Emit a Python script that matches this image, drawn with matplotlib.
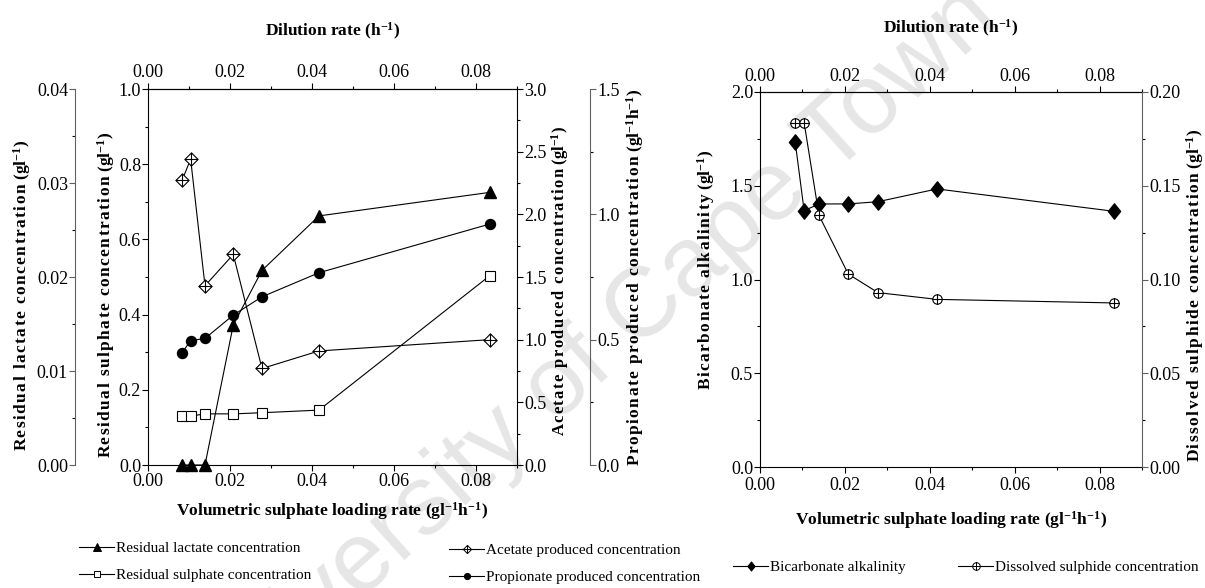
import matplotlib
matplotlib.use("Agg")
import matplotlib.pyplot as plt
from matplotlib.path import Path
from matplotlib.lines import Line2D
from matplotlib.ticker import MultipleLocator, FormatStrFormatter

plt.rcParams['font.family'] = ['Liberation Serif', 'DejaVu Serif']
plt.rcParams['mathtext.fontset'] = 'custom'
plt.rcParams['mathtext.rm'] = 'Liberation Serif'
plt.rcParams['mathtext.bf'] = 'Liberation Serif:bold'
plt.rcParams['mathtext.it'] = 'Liberation Serif:italic'

# ---------------- data ----------------
loading_rate = [0.0083, 0.0104, 0.0139, 0.0208, 0.0278, 0.0417, 0.0833]
lactate = [0.0, 0.0, 0.0, 0.0149, 0.0207, 0.0265, 0.0290]
sulphate = [0.130, 0.130, 0.136, 0.136, 0.139, 0.146, 0.503]
acetate = [2.27, 2.44, 1.43, 1.68, 0.77, 0.91, 1.00]
propionate = [0.448, 0.496, 0.505, 0.598, 0.671, 0.767, 0.961]
bicarbonate = [1.732, 1.367, 1.403, 1.403, 1.415, 1.483, 1.364]
sulphide = [0.1836, 0.1836, 0.1342, 0.1029, 0.0930, 0.0894, 0.0875]

# ---------------- markers ----------------
diamond = Path([(0, 1), (1, 0), (0, -1), (-1, 0), (0, 1)],
               [Path.MOVETO, Path.LINETO, Path.LINETO, Path.LINETO, Path.CLOSEPOLY])
tall_diamond = Path([(0, 1), (0.8, 0), (0, -1), (-0.8, 0), (0, 1)],
                    [Path.MOVETO, Path.LINETO, Path.LINETO, Path.LINETO, Path.CLOSEPOLY])
plus = Path([(0, 1), (0, -1), (-1, 0), (1, 0)],
            [Path.MOVETO, Path.LINETO, Path.MOVETO, Path.LINETO])
diamond_plus = Path.make_compound_path(diamond, plus)
circle_plus = Path.make_compound_path(Path.unit_circle(), plus)

LW = 0.8
TICKFS = 13
LABFS = 12.5
YLABFS = 12.5
GRAY = '#606060'
HS = '\u200a'


def sp(s):
    return HS.join(s)


def ylab(text, unit):
    return sp(text) + ' ' + unit


fig = plt.figure(figsize=(12.05, 5.88), dpi=100)


def style_ax(a):
    a.tick_params(direction='out', labelsize=TICKFS, width=0.8, length=4)
    a.tick_params(which='minor', direction='out', width=0.8, length=2.5)


def xfmt(a):
    a.xaxis.set_major_locator(MultipleLocator(0.02))
    a.xaxis.set_minor_locator(MultipleLocator(0.01))
    a.xaxis.set_major_formatter(FormatStrFormatter('%.2f'))


def yfmt(a, major, fmt):
    a.yaxis.set_major_locator(MultipleLocator(major))
    a.yaxis.set_minor_locator(MultipleLocator(major / 2))
    a.yaxis.set_major_formatter(FormatStrFormatter(fmt))


XLAB = r'Volumetric sulphate loading rate (gl$^{\mathbf{-1}}$h$^{\mathbf{-1}}$)'
TLAB = r'Dilution rate (h$^{\mathbf{-1}}$)'
G1 = r'(gl$^{\mathbf{-1}}$)'
G2 = r'(gl$^{\mathbf{-1}}$h$^{\mathbf{-1}}$)'

# ================= left panel =================
ax = fig.add_axes([148/1205, 1-465/588, 369/1205, 376/588])
ax.set_facecolor('none')
ax.set_xlim(0, 0.09)
ax.set_ylim(0, 1.0)
xfmt(ax)
yfmt(ax, 0.2, '%.1f')
ax.spines['right'].set_visible(False)
style_ax(ax)
ax.tick_params(axis='y', pad=1)
ax.tick_params(axis='x', pad=2)
ax.set_xlabel(XLAB, fontsize=LABFS, fontweight='bold', labelpad=7)
ax.set_ylabel(ylab('Residual sulphate concentration', G1),
              fontsize=YLABFS, fontweight='bold', labelpad=1, y=0.452)

top = ax.secondary_xaxis('top')
xfmt(top)
style_ax(top)
top.tick_params(axis='x', pad=2)
top.set_xlabel(TLAB, fontsize=LABFS, fontweight='bold', labelpad=20)

ax_lac = ax.twinx()
ax_lac.set_ylim(0, 0.04)
ax_lac.yaxis.set_ticks_position('left')
ax_lac.yaxis.set_label_position('left')
ax_lac.spines['left'].set_position(('outward', 73*0.72))
ax_lac.spines['left'].set_visible(True)
for s in ['right', 'top', 'bottom']:
    ax_lac.spines[s].set_visible(False)
ax_lac.spines['left'].set_color(GRAY)
yfmt(ax_lac, 0.01, '%.2f')
style_ax(ax_lac)
ax_lac.tick_params(axis='y', colors=GRAY, labelcolor='black', pad=1)
ax_lac.set_ylabel(ylab('Residual lactate concentration', G1),
                  fontsize=YLABFS, fontweight='bold', labelpad=3, y=0.452)

ax_ace = ax.twinx()
ax_ace.set_ylim(0, 3.0)
for s in ['left', 'top', 'bottom']:
    ax_ace.spines[s].set_visible(False)
yfmt(ax_ace, 0.5, '%.1f')
style_ax(ax_ace)
ax_ace.tick_params(axis='y', pad=1)
ax_ace.set_ylabel(ylab('Acetate produced concentration', G1),
                  fontsize=12, fontweight='bold', labelpad=2, y=0.49)

ax_pro = ax.twinx()
ax_pro.set_ylim(0, 1.5)
for s in ['left', 'top', 'bottom']:
    ax_pro.spines[s].set_visible(False)
ax_pro.spines['right'].set_position(('outward', 73*0.72))
ax_pro.spines['right'].set_color(GRAY)
yfmt(ax_pro, 0.5, '%.1f')
style_ax(ax_pro)
ax_pro.tick_params(axis='y', colors=GRAY, labelcolor='black', pad=1)
ax_pro.set_ylabel(ylab('Propionate produced concentration', G2),
                  fontsize=YLABFS, fontweight='bold', labelpad=3)

for a in (ax_lac, ax_ace, ax_pro):
    a.set_facecolor('none')
    a.set_xlim(0, 0.09)

l_lac, = ax_lac.plot(loading_rate, lactate, '-^', color='black', lw=LW, ms=9,
                     mfc='black', mec='black', clip_on=False)
l_sul, = ax.plot(loading_rate, sulphate, '-s', color='black', lw=LW, ms=6.8,
                 mfc='white', mec='black', mew=0.8, clip_on=False)
l_ace, = ax_ace.plot(loading_rate, acetate, '-', marker=diamond_plus, color='black', lw=LW,
                     ms=9.5, mfc='white', mec='black', mew=0.8, clip_on=False)
l_pro, = ax_pro.plot(loading_rate, propionate, '-o', color='black', lw=LW, ms=7.2,
                     mfc='black', mec='black', clip_on=False)


def leg(handle, label, x, y, scale=0.62):
    h = Line2D([0], [0], color='black', lw=LW, marker=handle.get_marker(),
               ms=handle.get_markersize()*scale, mfc=handle.get_markerfacecolor(),
               mec='black', mew=0.7)
    lg = fig.legend([h], [label], loc='center left', bbox_to_anchor=(x/1205, 1-y/588),
                    frameon=False, fontsize=11, handlelength=2.3, handletextpad=0.15,
                    borderaxespad=0, borderpad=0)
    return lg


leg(l_lac, 'Residual lactate concentration', 79, 548)
leg(l_sul, 'Residual sulphate concentration', 79, 575)
leg(l_ace, 'Acetate produced concentration', 449, 550)
leg(l_pro, 'Propionate produced concentration', 449, 577)

# ================= right panel =================
bx = fig.add_axes([760/1205, 1-467/588, 382/1205, 375/588])
bx.set_facecolor('none')
bx.set_xlim(0, 0.09)
bx.set_ylim(0, 2.0)
xfmt(bx)
yfmt(bx, 0.5, '%.1f')
bx.spines['right'].set_visible(False)
style_ax(bx)
bx.tick_params(axis='y', pad=1)
bx.tick_params(axis='x', pad=3)
bx.set_xlabel(XLAB, fontsize=LABFS, fontweight='bold', labelpad=11)
bx.set_ylabel(ylab('Bicarbonate alkalinity', G1),
              fontsize=YLABFS, fontweight='bold', labelpad=10, y=0.525)

btop = bx.secondary_xaxis('top')
xfmt(btop)
style_ax(btop)
btop.tick_params(axis='x', pad=1)
btop.set_xlabel(TLAB, fontsize=LABFS, fontweight='bold', labelpad=25)

bx2 = bx.twinx()
bx2.set_facecolor('none')
bx2.set_xlim(0, 0.09)
bx2.set_ylim(0, 0.20)
for s in ['left', 'top', 'bottom']:
    bx2.spines[s].set_visible(False)
bx2.spines['right'].set_color(GRAY)
yfmt(bx2, 0.05, '%.2f')
style_ax(bx2)
bx2.tick_params(axis='y', colors=GRAY, labelcolor='black', pad=1)
bx2.set_ylabel(ylab('Dissolved sulphide concentration', G1),
               fontsize=YLABFS, fontweight='bold', labelpad=3, y=0.459)

l_bic, = bx.plot(loading_rate, bicarbonate, '-', marker=tall_diamond, color='black', lw=LW,
                 ms=11, mfc='black', mec='black', clip_on=False)
l_sfd, = bx2.plot(loading_rate, sulphide, '-', marker=circle_plus, color='black', lw=LW,
                  ms=6.8, mfc='white', mec='black', mew=0.8, clip_on=False)

leg(l_bic, 'Bicarbonate alkalinity', 733, 567, scale=0.6)
leg(l_sfd, 'Dissolved sulphide concentration', 958, 567, scale=0.8)

# watermark
fig.text(0.49, 0.39, 'University of Cape Town', fontsize=71, family='Liberation Sans',
         color='#000000', alpha=0.10, rotation=42, ha='center', va='center', zorder=-5)

fig.savefig('out.png', dpi=100)
